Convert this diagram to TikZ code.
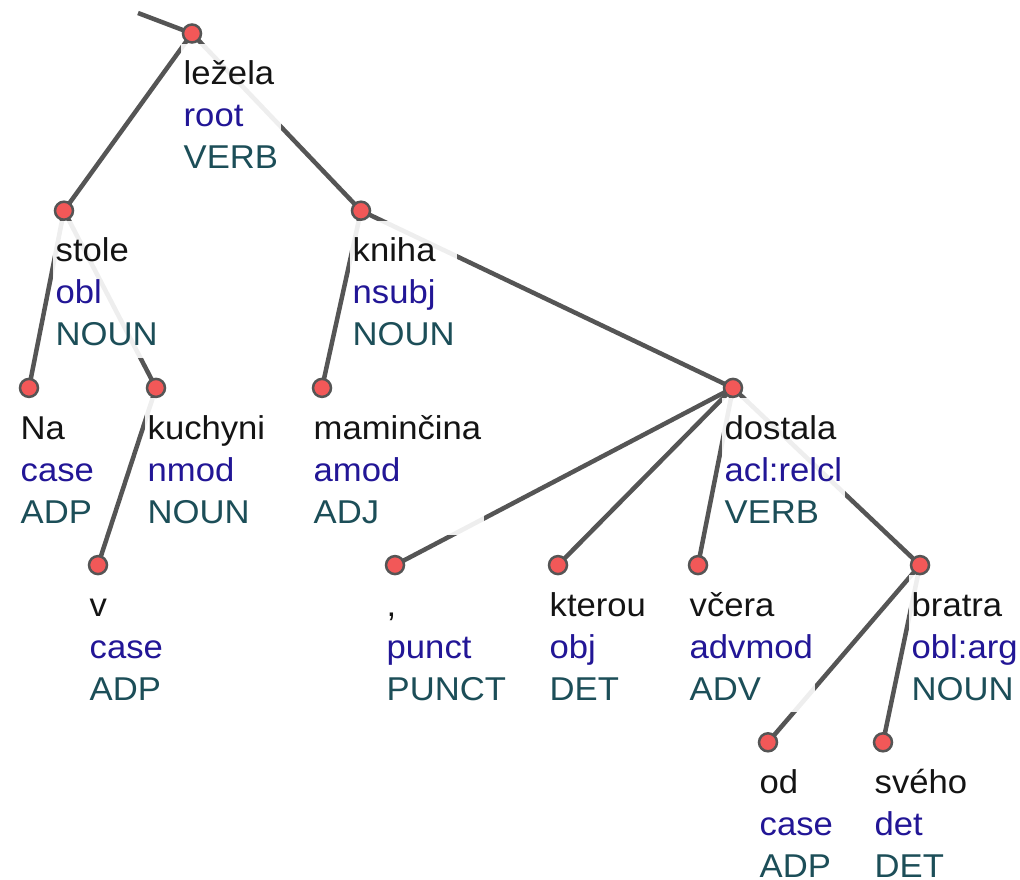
\documentclass[tikz,border=0pt]{standalone}
\usepackage{fontspec}
\setmainfont{Liberation Sans}[FakeStretch=1.05]

% drawing order: arcs at the back, label plates above them, token dots on top
\pgfdeclarelayer{edges}
\pgfdeclarelayer{labels}
\pgfsetlayers{edges,labels,main}

\definecolor{edgegray}{RGB}{85,85,85}
\definecolor{dotred}{RGB}{242,88,88}
\definecolor{wordcol}{RGB}{20,20,20}
\definecolor{relcol}{RGB}{34,22,150}
\definecolor{poscol}{RGB}{28,78,88}

\tikzset{
  tokdot/.style={circle, fill=dotred, draw=edgegray, line width=2.5pt,
                 minimum size=18pt, inner sep=0pt},
  toklabel/.style={anchor=north west, fill=white, fill opacity=0.9,
                   text opacity=1, inner xsep=2.5pt, inner ysep=0pt,
                   align=left, font=\fontsize{33}{42}\selectfont},
  deparc/.style={draw=edgegray, line width=4.5pt},
}

% token: [plate depth], name, x, y, word form, relation, part of speech
\newcommand{\deptoken}[7][12pt]{%
  \node[tokdot] (#2) at (#3,#4) {};
  \begin{pgfonlayer}{labels}
    \node[toklabel] (#2-lab) at ({#3-11},{#4+10})
      {\rule{0pt}{41pt}\textcolor{wordcol}{#5}\\
       \textcolor{relcol}{#6}\\
       \textcolor{poscol}{#7}\rule[-#1]{0pt}{#1}};
  \end{pgfonlayer}
}

\begin{document}
\begin{tikzpicture}[x=1pt, y=-1pt]
  \useasboundingbox (0,0) rectangle (1020,880);

  % tokens, one row per tree depth
  \deptoken{lezela}{192}{33.5}{ležela}{root}{VERB}

  \deptoken{stole}{64}{210.7}{stole}{obl}{NOUN}
  \deptoken{kniha}{361}{210.7}{kniha}{nsubj}{NOUN}

  \deptoken{na}{29}{387.9}{Na}{case}{ADP}
  \deptoken{kuchyni}{156}{387.9}{kuchyni}{nmod}{NOUN}
  \deptoken{maminci}{322}{387.9}{maminčina}{amod}{ADJ}
  \deptoken{dostala}{733}{387.9}{dostala}{acl:relcl}{VERB}

  \deptoken{v}{98}{565.1}{v}{case}{ADP}
  \deptoken{comma}{395}{565.1}{,}{punct}{PUNCT}
  \deptoken{kterou}{558}{565.1}{kterou}{obj}{DET}
  \deptoken{vcera}{698}{565.1}{včera}{advmod}{ADV}
  \deptoken{bratra}{920}{565.1}{bratra}{obl:arg}{NOUN}

  \deptoken[2pt]{od}{768}{742.3}{od}{case}{ADP}
  \deptoken[2pt]{sveho}{883}{742.3}{svého}{det}{DET}

  % dependency arcs
  \begin{pgfonlayer}{edges}
    \coordinate (top) at (138,13);
    \draw[deparc] (top) -- (lezela.center);
    \draw[deparc] (lezela.center) -- (stole.center);
    \draw[deparc] (lezela.center) -- (kniha.center);
    \draw[deparc] (stole.center) -- (na.center);
    \draw[deparc] (stole.center) -- (kuchyni.center);
    \draw[deparc] (kuchyni.center) -- (v.center);
    \draw[deparc] (kniha.center) -- (maminci.center);
    \draw[deparc] (kniha.center) -- (dostala.center);
    \draw[deparc] (dostala.center) -- (comma.center);
    \draw[deparc] (dostala.center) -- (kterou.center);
    \draw[deparc] (dostala.center) -- (vcera.center);
    \draw[deparc] (dostala.center) -- (bratra.center);
    \draw[deparc] (bratra.center) -- (od.center);
    \draw[deparc] (bratra.center) -- (sveho.center);
  \end{pgfonlayer}
\end{tikzpicture}
\end{document}
